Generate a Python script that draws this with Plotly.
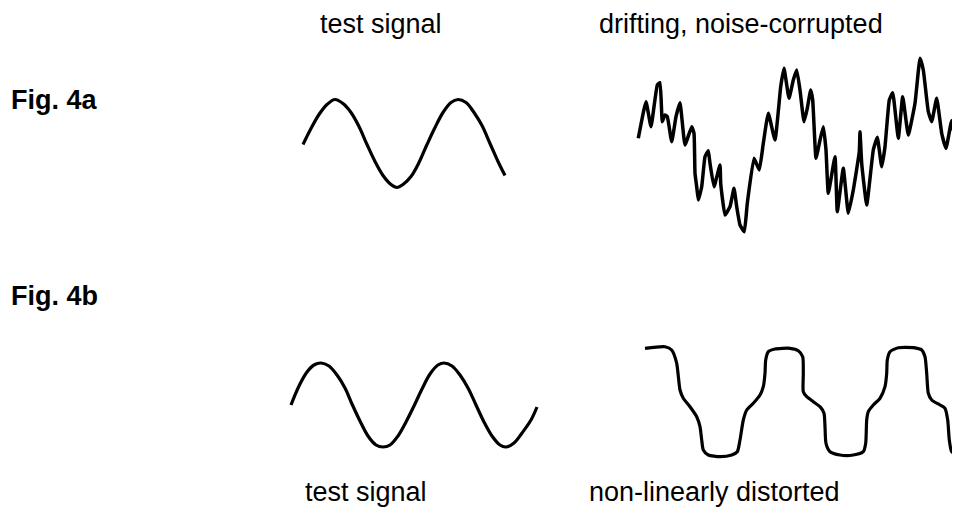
import plotly.graph_objects as go

# ---------------- data ----------------
# Fig. 4a, left: test signal (time, amplitude)
sig_a_t = [0, 8, 16, 24, 32, 40, 48, 56, 64, 72, 80, 88, 94, 100, 108, 116, 124,
           132, 140, 148, 155, 163, 171, 179, 187, 195, 202]
sig_a_v = [-1, 15, 29, 39, 44, 40, 31, 17, -1, -18, -32, -41, -44, -41, -33, -19, -1,
           16, 31, 41, 44, 41, 31, 18, 0, -18, -32]

# Fig. 4a, right: drifting, noise-corrupted
noisy_t = [0.3, 8, 13, 19.3, 22, 24.3, 27, 29.3, 33.7, 38, 42, 47, 53.7, 56, 57, 58.7,
           60.3, 63.7, 67, 70.3, 72, 76, 82, 82.7, 87, 92, 96, 98.7, 102, 106.3, 109.3,
           116, 121.3, 125.3, 130.3, 137, 142.7, 146, 151, 155.3, 158.7, 162, 166, 169.3,
           172.7, 174.7, 178, 182, 185.3, 188, 190.3, 197, 199.3, 205.3, 210.3, 215.3,
           221.3, 222, 223.7, 228.7, 235.3, 239.3, 243.7, 247, 251.3, 254.7, 260.3,
           264.7, 270.3, 277, 282, 285.3, 290.3, 293.7, 298.7, 303.7, 308, 313.7, 320.3]
noisy_v = [6.7, 43.3, 18.3, 60, 62.3, 23.3, 30, 28.3, 3.3, 28.3, 42.3, 0, 18.3, 11.7,
           -28.3, -41.7, -55, -41.7, -11.7, -5.7, -18.3, -41.7, -20, -38.3, -70, -61.7,
           -43.3, -61.7, -80, -86.7, -58.3, -13.3, -25, 1.7, 31.7, 5, 58.3, 76.7, 46.7,
           65, 75, 55, 23.3, 36.7, 55, 45, -13.3, 5, 18.3, -5, -48.3, -11.7, -66.7,
           -23.3, -68.3, -45, -6.7, 13.3, -18.3, -60, -5, 7.7, -21.7, -1.7, 45, 52.3,
           6.7, 48.3, 10, 41.7, 86.7, 75, 33.3, 23.3, 46.7, 11.7, -3.3, 24.3, -20]

# Fig. 4b, left: test signal
sig_b_t = [0, 8, 16, 23, 30, 38, 46, 54, 61, 69, 77, 85, 92, 99, 107, 115, 123, 131,
           139, 147, 153, 161, 169, 177, 185, 193, 201, 209, 215, 223, 231, 240, 246]
sig_b_v = [0, 19, 33, 40, 42, 39, 30, 17, 1, -16, -31, -40, -42, -40, -31, -17, -1, 16,
           31, 40, 42, 39, 30, 17, 0, -17, -31, -40, -42, -38, -28, -15, -2]

# Fig. 4b, right: non-linearly distorted
dist_t = [0, 20, 26.7, 31.7, 35, 38.3, 45, 51.7, 55, 56.7, 58.3, 63.3, 75, 86.7, 92.3,
          95, 98.3, 101.7, 108.3, 115, 118.3, 120, 120.7, 123.3, 130, 145, 153.3, 157.7,
          158.3, 158.3, 161.7, 168.3, 175, 179, 180, 181, 185, 195, 208.3, 218.3, 220.7,
          221.7, 223.3, 228.3, 235, 240, 241.7, 242.3, 245, 253.3, 268.3, 276.7, 280,
          281.7, 283.3, 286.7, 295, 300, 302.7, 304.3, 306.7, 313.3]
dist_v = [51.7, 53.3, 50, 36.7, 10, 1.7, -6.7, -16.7, -26.7, -40, -50, -55, -56.7, -55,
          -51.7, -40, -20, -10, -3.3, 5, 13.3, 26.7, 40, 48.3, 51, 51.7, 49.3, 43.3, 26.7,
          8.3, 3.3, -1.7, -6.7, -13.3, -26.7, -43.3, -51.7, -55, -55, -51.7, -43.3, -20,
          -11.7, -5, 1.7, 13.3, 26.7, 40, 48.3, 52.3, 52.3, 50, 43.3, 26.7, 6.7, 0, -5,
          -8.3, -20, -40, -51.7, -55]

# ---------------- layout ----------------
W, H = 960, 515
PAGE_MARGIN = 8          # default <body> margin of the written html page
FONT = "Liberation Sans, Arial, sans-serif"


def fx(p):
    return (p - PAGE_MARGIN) / W


def fy(p):
    return (H - (p - PAGE_MARGIN)) / H


fig = go.Figure()

# (time, values, origin x, origin y (window px), t-range, v-range, smoothing, width)
panels = [
    (sig_a_t, sig_a_v, 303, 143.5, (-5, 210), (-50, 50), 1.0, 3.2),
    (noisy_t, noisy_v, 638, 145, (-5, 322), (-95, 95), 0.35, 3.5),
    (sig_b_t, sig_b_v, 291, 405, (-5, 250), (-50, 50), 1.0, 3.2),
    (dist_t, dist_v, 645, 400, (-5, 315), (-62, 62), 0.6, 3.2),
]

for i, (tt, vv, ox, oy, tr, vr, sm, lw) in enumerate(panels, start=1):
    xa = "x" if i == 1 else f"x{i}"
    ya = "y" if i == 1 else f"y{i}"
    fig.add_trace(go.Scatter(
        x=tt, y=vv, mode="lines", xaxis=xa, yaxis=ya,
        line=dict(color="black", width=lw, shape="spline", smoothing=sm),
        hoverinfo="skip", showlegend=False,
    ))
    xd = [fx(ox + tr[0]), fx(ox + tr[1])]
    yd = [fy(oy - vr[0]), fy(oy - vr[1])]
    ax = dict(visible=False, range=list(tr), domain=xd, fixedrange=True)
    ay = dict(visible=False, range=list(vr), domain=yd, fixedrange=True)
    if i == 1:
        fig.update_layout(xaxis=dict(ax, anchor="y"), yaxis=dict(ay, anchor="x"))
    else:
        fig.update_layout(**{f"xaxis{i}": dict(ax, anchor=f"y{i}"),
                             f"yaxis{i}": dict(ay, anchor=f"x{i}")})

labels = [
    ("test signal", 318, 24, False),
    ("drifting, noise-corrupted", 597, 24, False),
    ("Fig. 4a", 9, 100, True),
    ("Fig. 4b", 9, 296, True),
    ("test signal", 303, 492, False),
    ("non-linearly distorted", 587, 492, False),
]
for text, px, py, bold in labels:
    fig.add_annotation(
        text=f"<b>{text}</b>" if bold else text,
        x=fx(px), y=fy(py), xref="paper", yref="paper",
        xanchor="left", yanchor="middle", showarrow=False,
        font=dict(family=FONT, size=27, color="black"),
    )

fig.update_layout(
    width=W, height=H,
    margin=dict(l=0, r=0, t=0, b=0),
    paper_bgcolor="white", plot_bgcolor="white",
    showlegend=False,
)

fig.write_html("out.html", config={"displayModeBar": False})
